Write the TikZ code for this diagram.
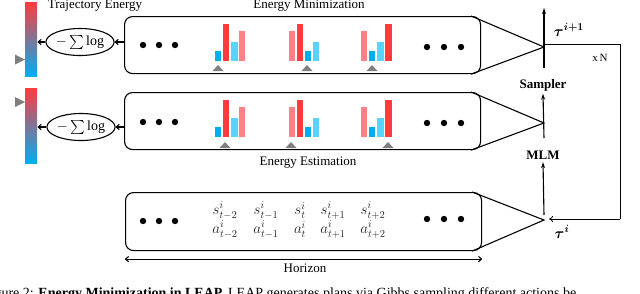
\RequirePackage{fix-cm}
\documentclass[tikz,border=0pt]{standalone}
\usepackage{amsmath,amssymb,bm}
\usepackage{fontspec}
\setmainfont{Liberation Serif}
\usetikzlibrary{arrows.meta,positioning,shapes.geometric}
\definecolor{barred}{HTML}{FF3B3F}
\definecolor{barpink}{HTML}{FF8085}
\definecolor{barblue}{HTML}{00AEEF}
\definecolor{barcyan}{HTML}{5AD2FA}
\definecolor{pickgray}{HTML}{7F7F7F}
\begin{document}
\begin{tikzpicture}[>={Stealth[length=6pt,width=4pt]},x=1pt,y=-1pt,
    font=\fontsize{13}{15}\selectfont,line width=1.1pt,
    seqbox/.style={draw,rounded corners=8pt,minimum width=356pt,anchor=north west,inner sep=0pt},
    energybar/.style={minimum width=12pt,inner sep=0pt,top color=barred,bottom color=barblue},
    sumlog/.style={draw,ellipse,minimum width=60pt,minimum height=27pt,inner sep=0pt,font=\fontsize{14}{16}\selectfont},
    barb/.style={-{To[length=4pt,width=6pt]}},
    state/.style={inner sep=0pt,align=center,text=black!85,font=\fontsize{15}{19}\selectfont},
    bar/.style={minimum width=6.5pt,inner sep=0pt,anchor=south west}]
  \useasboundingbox (0,0) rectangle (640,293);
  % sequence boxes
  \node (B1) [seqbox,minimum height=57pt] at (124,16) {};
  \node (B2) [seqbox,minimum height=57pt] at (124,92) {};
  \node (B3) [seqbox,minimum height=58pt] at (125,192) {};
  \coordinate (T1) at (544,47);
  \coordinate (T2) at (544,123);
  \coordinate (T3) at (544,220);
  \draw ([xshift=-10pt]B1.north east) -- (T1) -- ([xshift=-10pt]B1.south east);
  \draw ([xshift=-10pt]B2.north east) -- (T2) -- ([xshift=-10pt]B2.south east);
  \draw ([xshift=-10pt]B3.north east) -- (T3) -- ([xshift=-10pt]B3.south east);
  % dots
  \foreach \y in {45,122,221} \foreach \x in {143,159,175} \fill (\x,\y) circle (3.2pt);
  \foreach \y in {47,123,219} \foreach \x in {427,444,461} \fill (\x,\y) circle (3.2pt);
  % energy bars
  \foreach \b/\r in {0/1,76/2} {
    \foreach \x/\h/\c [count=\n] in {214/10/barblue,222/37/barred,230.5/19/barcyan,238/30/barpink,
        288/30/barpink,296/37/barred,304/10/barblue,312/19/barcyan,
        360/30/barpink,368/10/barblue,376.5/19/barcyan,384.5/37/barred}
      \node (bar\r-\n) [bar,fill=\c,minimum height=\h pt] at (\x,62+\b) {};
  }
  \foreach \x in {218,307,372} \fill[pickgray] (\x-5.5,71) -- (\x+5.5,71) -- (\x,65) -- cycle;
  \foreach \x in {225,291,388} \fill[pickgray] (\x-5.5,148) -- (\x+5.5,148) -- (\x,142) -- cycle;
  % trajectory energy
  \node (E1) [energybar,minimum height=74pt] at (31,39) {};
  \node (E2) [energybar,minimum height=75pt] at (31,125.5) {};
  \fill[pickgray] (15,54.5) -- (15,64.5) -- (25,59.5) -- cycle;
  \fill[pickgray] (15,97) -- (15,107) -- (25,102) -- cycle;
  \node (L1) [sumlog] at (80,42) {$-\sum\log$};
  \node (L2) [sumlog] at (81,127) {$-\sum\log$};
  \draw[barb] (B1.west |- L1.east) -- (L1.east);
  \draw[barb] (L1.west) -- (E1.east |- L1.west);
  \draw[barb] (B2.west |- L2.east) -- (L2.east);
  \draw[barb] (L2.west) -- (E2.east |- L2.west);
  % states
  \foreach \x/\k [count=\n] in {225/{-2},266/{-1},300/{},333/{+1},373/{+2}}
    \node (sa\n) [state] at (\x,220) {$s^i_{t\k}$\\$a^i_{t\k}$};
  \draw[{To[length=4pt,width=6pt]}-{To[length=4pt,width=6pt]}] ([yshift=-8pt]B3.south west) -- ([yshift=-8pt]B3.south east);
  % labels
  \node (traj) at (95,6) {Trajectory Energy};
  \node (emin) at (309,6) {Energy Minimization};
  \node (eest) at (308,163) {Energy Estimation};
  \node (hor) at (305,268) {Horizon};
  % sampling loop
  \node (sampler) [font=\fontsize{13}{15}\selectfont\bfseries] at (543,85) {Sampler};
  \node (mlm) [font=\fontsize{13}{15}\selectfont\bfseries] at (543,155) {MLM};
  \coordinate (top) at (544,8);
  \coordinate (S1) at (544,68);
  \coordinate (S2) at (544,138);
  \coordinate (S3) at (544,215);
  \coordinate (J) at (544,44);
  \coordinate (K) at (620,219);
  \coordinate (R3) at (549,219);
  \draw[->] (S1) -- (top);
  \draw[->] (S2) -- ([yshift=1pt]sampler.south);
  \draw[->] (S3) -- ([yshift=1pt]mlm.south);
  \draw[line width=0.8pt] (J) -| (K);
  \draw[barb,line width=0.8pt] (K) -- (R3);
  \node (tau1) [font=\fontsize{15}{17}\selectfont] at (569,30) {$\bm{\tau}^{\bm{i+1}}$};
  \node (tau0) [font=\fontsize{15}{17}\selectfont] at (562,232) {$\bm{\tau}^{\bm{i}}$};
  \node (rep) [font=\fontsize{11}{13}\selectfont] at (600,58) {x\,N};
  % caption
  \node (cap) [anchor=base west,font=\fontsize{14}{16}\selectfont] at (-21,297.5)
    {Figure 2: \textbf{Energy Minimization in LEAP.} LEAP generates plans via Gibbs sampling different actions be};
\end{tikzpicture}
\end{document}
